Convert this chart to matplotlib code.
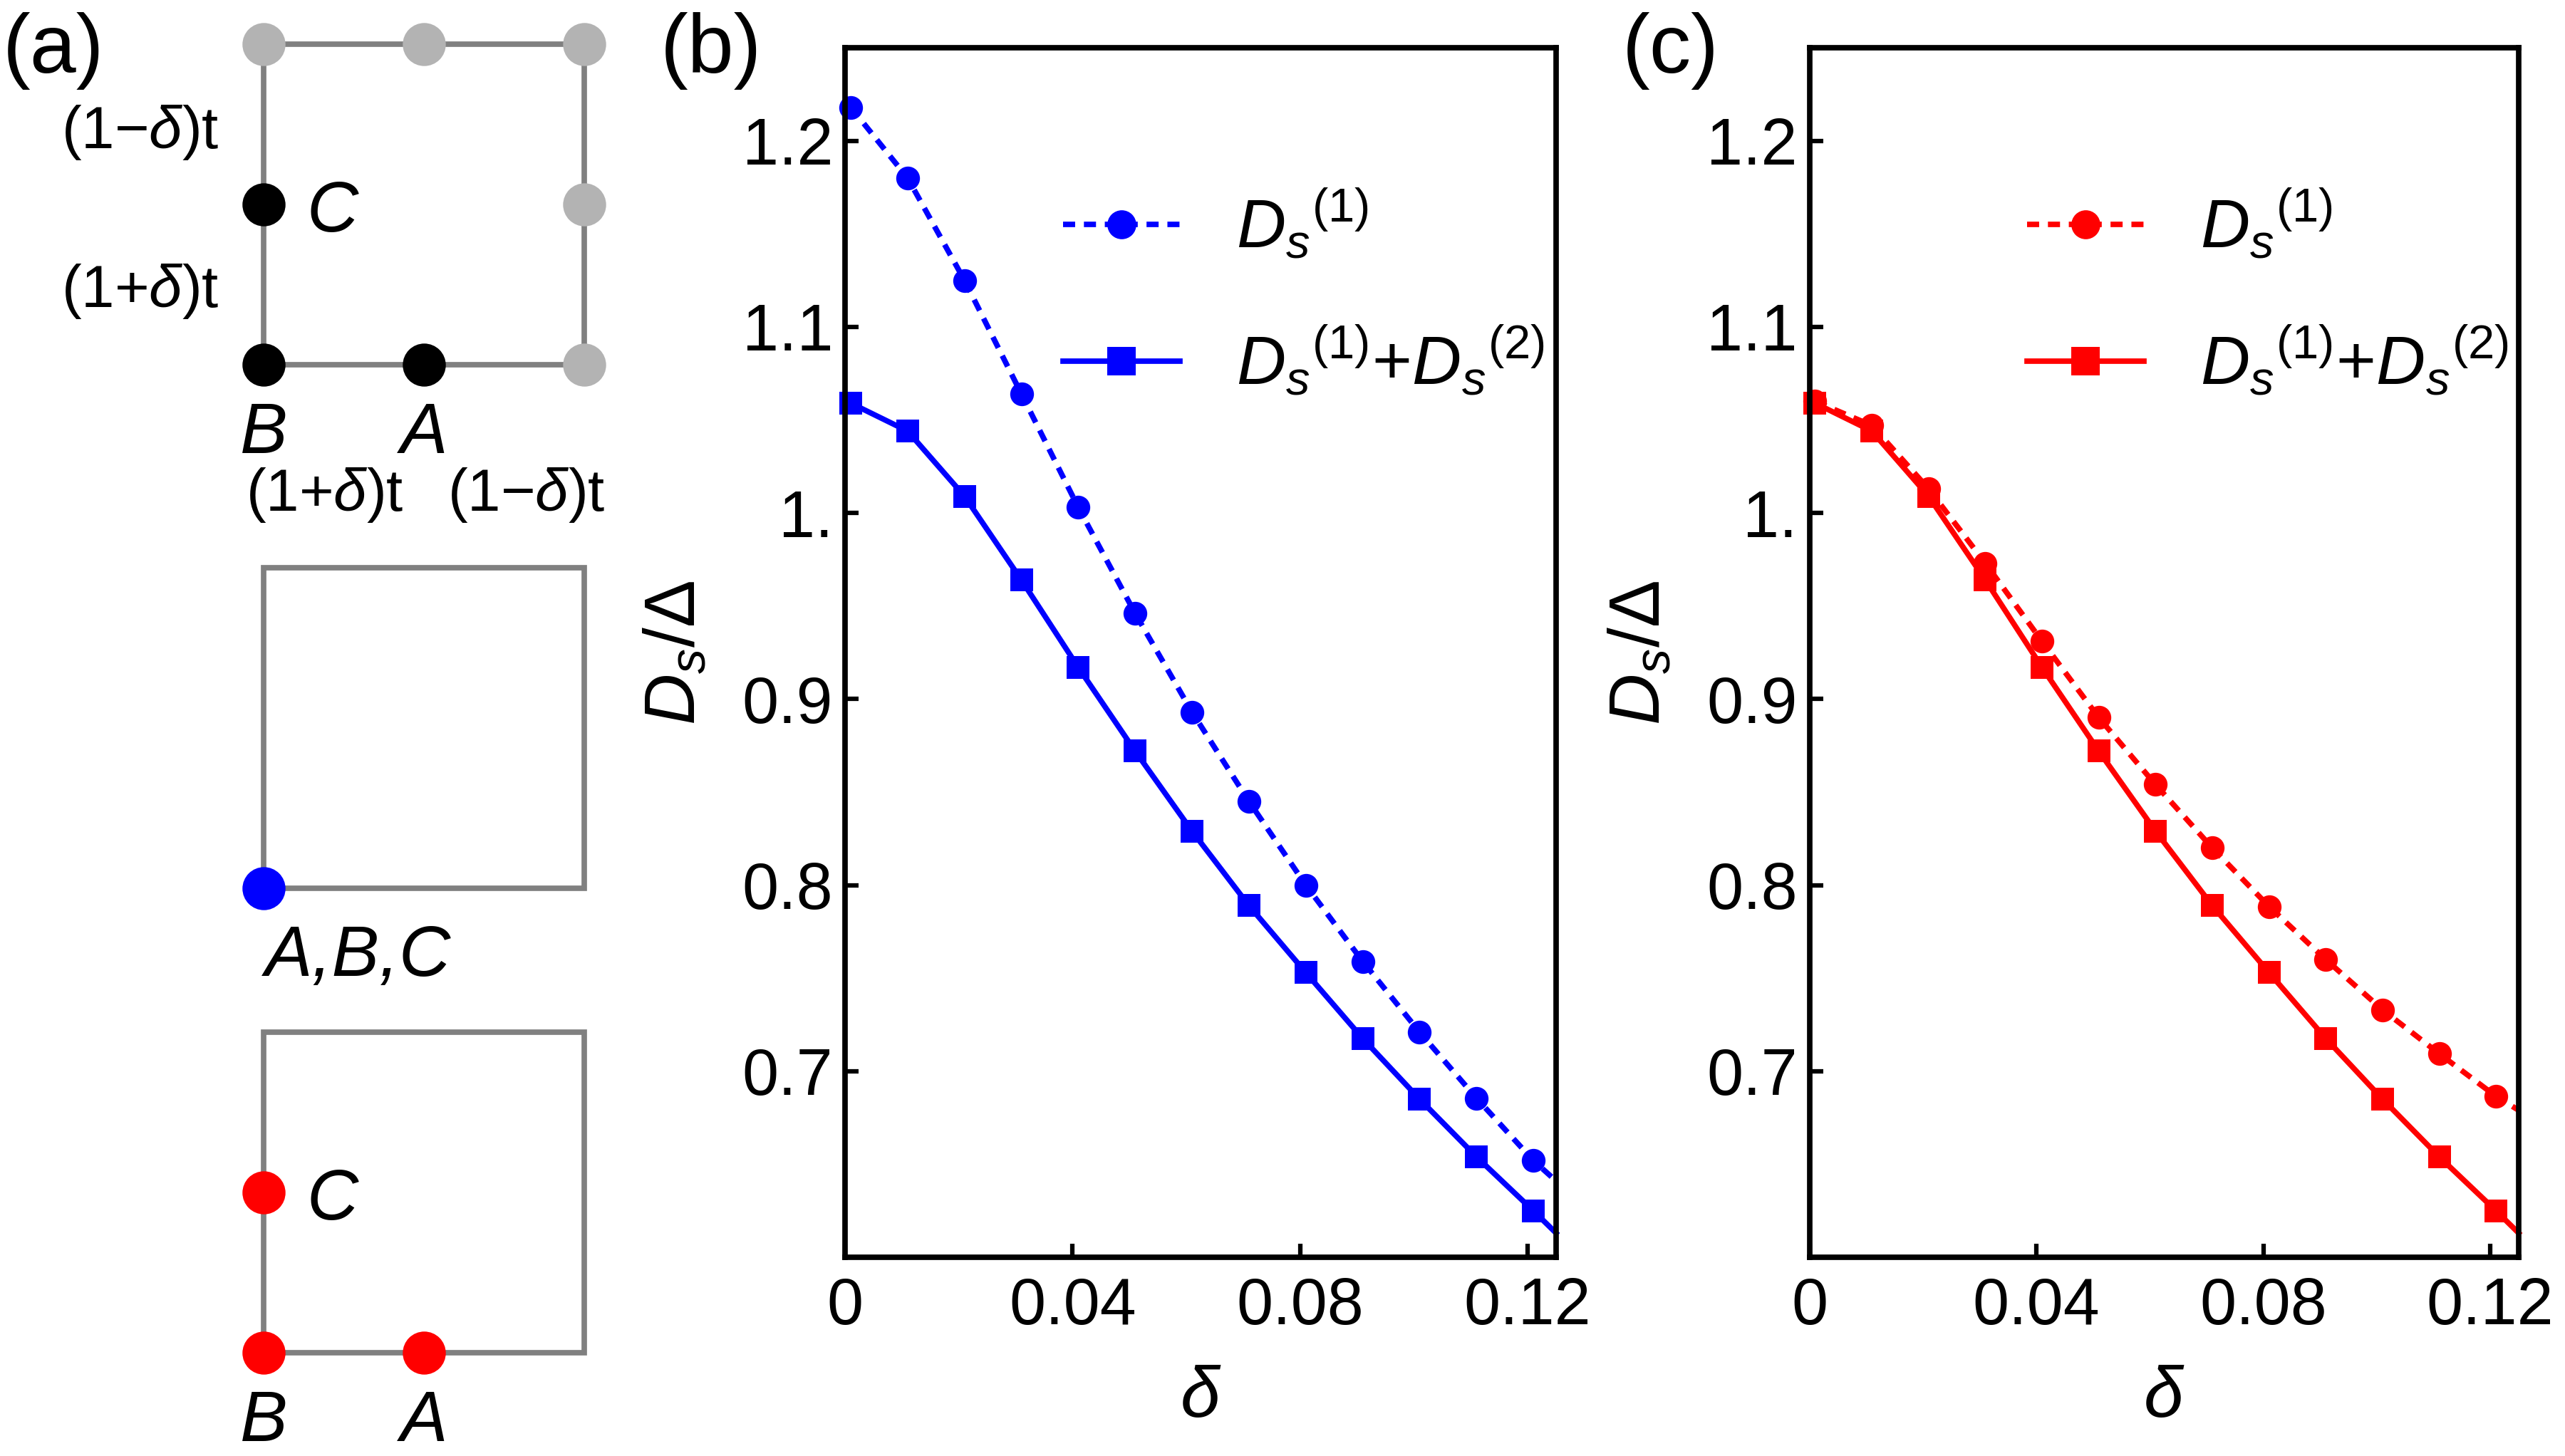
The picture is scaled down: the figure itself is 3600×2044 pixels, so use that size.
import matplotlib
matplotlib.use("Agg")
import matplotlib.pyplot as plt

plt.rcParams["font.family"] = ["Liberation Sans", "DejaVu Sans"]
plt.rcParams["mathtext.fontset"] = "custom"
plt.rcParams["mathtext.rm"] = "Liberation Sans"
plt.rcParams["mathtext.it"] = "Liberation Sans:italic"
plt.rcParams["mathtext.bf"] = "Liberation Sans:bold"

# dimerization delta; the last entry is where the curves leave the frame
delta = [0.001, 0.011, 0.021, 0.031, 0.041, 0.051, 0.061,
         0.071, 0.081, 0.091, 0.101, 0.111, 0.121, 0.125]

# panel (b): uniform order parameter
ds1_b = [1.218, 1.180, 1.125, 1.064, 1.003, 0.946, 0.893,
         0.845, 0.800, 0.759, 0.721, 0.6855, 0.652, 0.641]
ds12_b = [1.059, 1.044, 1.009, 0.964, 0.917, 0.872, 0.829,
          0.789, 0.753, 0.7176, 0.685, 0.654, 0.625, 0.613]

# panel (c): modulated order parameter
ds1_c = [1.060, 1.047, 1.013, 0.973, 0.931, 0.890, 0.854,
         0.820, 0.7885, 0.760, 0.733, 0.7094, 0.6865, 0.679]
ds12_c = [1.059, 1.044, 1.009, 0.964, 0.917, 0.872, 0.829,
          0.789, 0.753, 0.7176, 0.685, 0.654, 0.625, 0.613]

xtick_vals = [0, 0.04, 0.08, 0.12]
xtick_labels = ["0", "0.04", "0.08", "0.12"]
ytick_vals = [0.7, 0.8, 0.9, 1.0, 1.1, 1.2]
ytick_labels = ["0.7", "0.8", "0.9", "1.", "1.1", "1.2"]

# panel (a): unit cell in lattice units
cell_x = [0, 2, 2, 0, 0]
cell_y = [0, 0, 2, 2, 0]
grey_x = [0, 1, 2, 2, 2]
grey_y = [2, 2, 2, 1, 0]
abc_x = [1, 0, 0]   # A, B, C
abc_y = [0, 0, 1]

GREY_LINE = "#808080"
GREY_DOT = "#b3b3b3"
BLUE = "#0000ff"
RED = "#ff0000"

W, H = 3600, 2044
fig = plt.figure(figsize=(W / 300, H / 300), dpi=300)


def draw_panel(ax, d1, d12, color):
    n = len(delta) - 1
    ax.plot(delta, d1, color=color, lw=1.85, ls=(0, (2.2, 1.6)),
            marker="o", ms=8, mew=0, markevery=list(range(n)),
            clip_on=False, label=r"${D_s}^{(1)}$")
    ax.plot(delta, d12, color=color, lw=1.85, marker="s", ms=7.7, mew=0,
            markevery=list(range(n)), clip_on=False,
            label=r"${D_s}^{(1)}$+${D_s}^{(2)}$")
    ax.set_xlim(0, 0.125)
    ax.set_ylim(0.6, 1.25)
    ax.set_xticks(xtick_vals)
    ax.set_xticklabels(xtick_labels)
    ax.set_yticks(ytick_vals)
    ax.set_yticklabels(ytick_labels)
    ax.tick_params(direction="in", length=4.6, width=1.5, labelsize=22)
    ax.tick_params(axis="x", pad=6.5)
    ax.tick_params(axis="y", pad=4)
    for s in ax.spines.values():
        s.set_linewidth(1.85)
    ax.set_xlabel(r"$\delta$", fontsize=24, labelpad=9)
    ax.set_ylabel(r"$D_s/\Delta$", fontsize=24)
    ax.yaxis.set_label_coords(-0.19, 0.5)
    ax.legend(loc="upper left", bbox_to_anchor=(0.307, 0.884), frameon=False,
              fontsize=23, handlelength=1.71, handletextpad=0.82,
              labelspacing=0.915, borderpad=0, borderaxespad=0, markerscale=1.22)


bot = (H - 1765) / H
hgt = 1698 / H
ax_b = fig.add_axes([1186 / W, bot, 998 / W, hgt])
ax_c = fig.add_axes([2539.5 / W, bot, 995.5 / W, hgt])
draw_panel(ax_b, ds1_b, ds12_b, BLUE)
draw_panel(ax_c, ds1_c, ds12_c, RED)

# panel (a) schematic, 225 px per lattice unit
u = 225
ax_a = fig.add_axes([0, 0, 880 / W, 1])
ax_a.set_xlim(-370 / u, 510 / u)
ax_a.set_ylim((1899 - H) / u, 1899 / u)
ax_a.axis("off")

offsets = [(1899 - 512) / u, (1899 - 1247) / u, 0.0]
for oy in offsets:
    ax_a.plot(cell_x, [y + oy for y in cell_y], color=GREY_LINE, lw=1.85,
              solid_joinstyle="miter", zorder=1)

dot = dict(ls="none", marker="o", ms=14.5, mew=0, zorder=3, clip_on=False)
t_oy, m_oy, b_oy = offsets

# top cell: full lattice with sublattices A, B, C
ax_a.plot(grey_x, [y + t_oy for y in grey_y], color=GREY_DOT, **dot)
ax_a.plot(abc_x, [y + t_oy for y in abc_y], color="black", **dot)
lab = dict(fontsize=24, style="italic", va="baseline")
hop = dict(fontsize=20, va="baseline")
ax_a.text(0.27, t_oy + 0.832, "C", ha="left", **lab)
ax_a.text(0.0, t_oy - 0.551, "B", ha="center", **lab)
ax_a.text(1.0, t_oy - 0.551, "A", ha="center", **lab)
ax_a.text(-0.28, t_oy + 1.352, "(1\u2212$\\delta$)t", ha="right", **hop)
ax_a.text(-0.28, t_oy + 0.36, "(1+$\\delta$)t", ha="right", **hop)
ax_a.text(0.38, t_oy - 0.911, "(1+$\\delta$)t", ha="center", **hop)
ax_a.text(1.64, t_oy - 0.911, "(1\u2212$\\delta$)t", ha="center", **hop)

# middle cell: uniform
ax_a.plot([0], [m_oy], color=BLUE, **dot)
ax_a.text(0.01, m_oy - 0.547, "A,B,C", ha="left", **lab)

# bottom cell: modulated
ax_a.plot(abc_x, [y + b_oy for y in abc_y], color=RED, **dot)
ax_a.text(0.27, b_oy + 0.832, "C", ha="left", **lab)
ax_a.text(0.0, b_oy - 0.551, "B", ha="center", **lab)
ax_a.text(1.0, b_oy - 0.551, "A", ha="center", **lab)

# panel tags
for tag, x in [("(a)", 75), ("(b)", 998), ("(c)", 2345)]:
    fig.text(x / W, 1 - 72 / H, tag, fontsize=28, ha="center", va="center")

fig.savefig("out.png", dpi=300)
